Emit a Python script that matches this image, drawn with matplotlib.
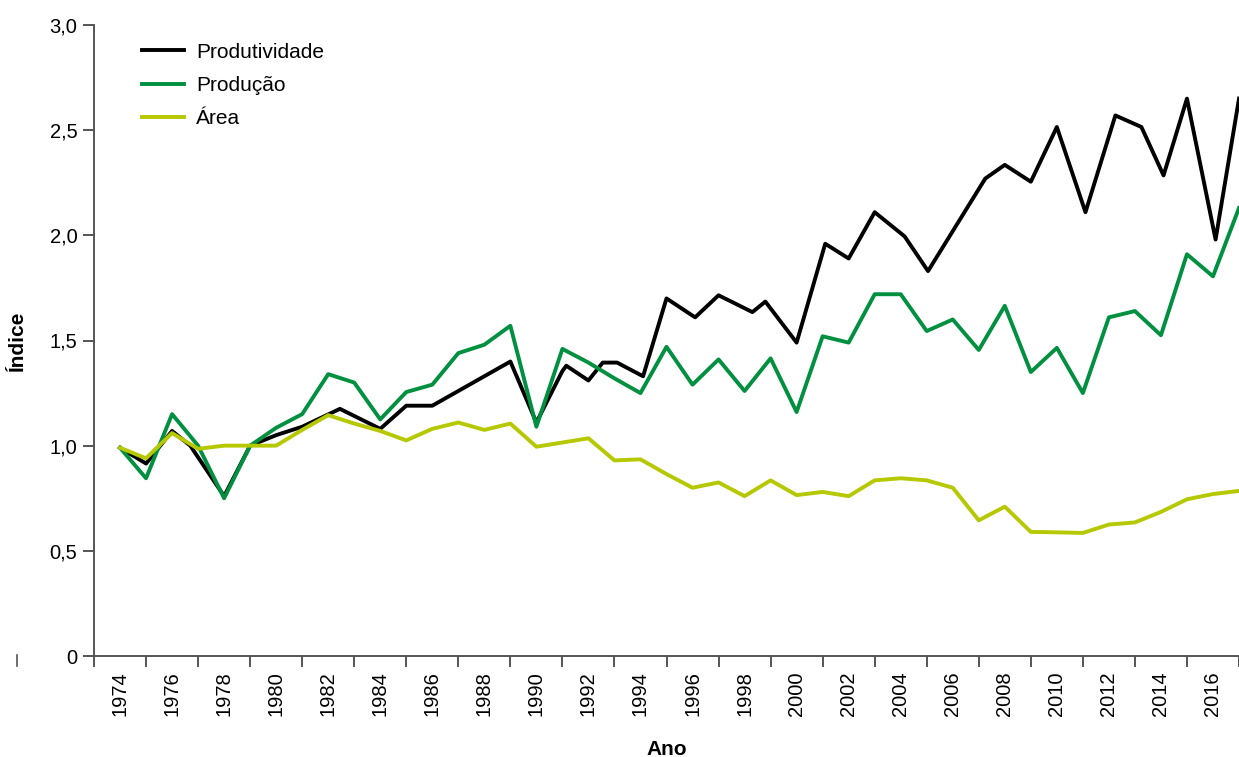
import matplotlib
matplotlib.use("Agg")
import matplotlib.pyplot as plt
from matplotlib.lines import Line2D

plt.rcParams['font.family'] = ['Liberation Sans', 'DejaVu Sans']

# Produtividade (some vertices fall between years in the source)
prod_years = [1974, 1975, 1976, 1976.7, 1978, 1979, 1980, 1981, 1982.45, 1984, 1985, 1986,
              1989, 1990, 1991, 1991.15, 1992, 1992.55, 1993.1, 1994.1, 1995, 1996.1, 1997,
              1998.3, 1998.8, 2000, 2001.1, 2002, 2003, 2004.15, 2005.05, 2007.25, 2008,
              2009, 2010, 2011.1, 2012.25, 2013.25, 2014.1, 2015, 2016.1, 2017]
produtividade = [0.99, 0.915, 1.07, 1.0, 0.76, 1.0, 1.05, 1.09, 1.175, 1.08, 1.19, 1.19,
                 1.40, 1.11, 1.355, 1.38, 1.31, 1.395, 1.395, 1.33, 1.70, 1.61, 1.715,
                 1.635, 1.685, 1.49, 1.96, 1.89, 2.11, 1.995, 1.83, 2.27, 2.335,
                 2.255, 2.515, 2.11, 2.57, 2.515, 2.285, 2.65, 1.98, 2.65]

years = list(range(1974, 2018))
producao = [0.99, 0.845, 1.15, 1.0, 0.75, 1.0, 1.085, 1.15, 1.34, 1.30, 1.125, 1.255,
            1.29, 1.44, 1.48, 1.57, 1.09, 1.46, 1.395, 1.32, 1.25, 1.47, 1.29, 1.41,
            1.26, 1.415, 1.16, 1.52, 1.49, 1.72, 1.72, 1.545, 1.60, 1.455, 1.665, 1.35,
            1.465, 1.25, 1.61, 1.64, 1.525, 1.91, 1.805, 2.13]
area = [0.99, 0.94, 1.06, 0.985, 1.0, 1.0, 1.0, 1.075, 1.145, 1.105, 1.07, 1.025,
        1.08, 1.11, 1.075, 1.105, 0.995, 1.015, 1.035, 0.93, 0.935, 0.865, 0.80, 0.825,
        0.76, 0.835, 0.765, 0.78, 0.76, 0.835, 0.845, 0.835, 0.80, 0.645, 0.71, 0.59,
        0.588, 0.585, 0.625, 0.635, 0.685, 0.745, 0.77, 0.785]

y_ticks = [0, 0.5, 1.0, 1.5, 2.0, 2.5, 3.0]
y_labels = ["0", "0,5", "1,0", "1,5", "2,0", "2,5", "3,0"]

fig = plt.figure(figsize=(12.39, 7.57), dpi=100)
ax = fig.add_axes([94 / 1239, 101 / 757, 1 - 94 / 1239, (656 - 25) / 757])

ax.plot(prod_years, produtividade, color="#000000", lw=2.8, label="Produtividade")
ax.plot(years, producao, color="#009040", lw=2.8, label="Produção")
ax.plot(years, area, color="#b5c800", lw=2.8, label="Área")

ax.set_xlim(1973, 2017)
ax.set_ylim(0, 3.0)

axis_col = "#555555"
for s in ["top", "right"]:
    ax.spines[s].set_visible(False)
for s in ["left", "bottom"]:
    ax.spines[s].set_color(axis_col)
    ax.spines[s].set_linewidth(1.4)

ax.set_yticks(y_ticks)
ax.set_yticklabels(y_labels, fontsize=14.5)
ax.tick_params(axis="y", length=8, width=1.4, color=axis_col, pad=4)

# labels on even years, tick marks on odd years
ax.set_xticks(list(range(1974, 2017, 2)))
ax.set_xticklabels([str(y) for y in range(1974, 2017, 2)], rotation=90, fontsize=14.5)
ax.set_xticks(list(range(1973, 2018, 2)), minor=True)
ax.tick_params(axis="x", which="major", length=0, pad=11)
ax.tick_params(axis="x", which="minor", length=8, width=1.4, color=axis_col)

ax.set_xlabel("Ano", fontsize=15, fontweight="bold", labelpad=17)
ax.set_ylabel("Índice", fontsize=15, fontweight="bold", labelpad=16)

ax.legend(loc="upper left", bbox_to_anchor=(0.0419, 0.972), frameon=False, fontsize=15,
          handlelength=2.0, handletextpad=0.6, labelspacing=0.69, borderpad=0, borderaxespad=0)

fig.add_artist(Line2D([17 / 1239, 17 / 1239], [1 - 655 / 757, 1 - 666 / 757],
                      color=axis_col, lw=1.2))

fig.savefig("out.png", dpi=100)
